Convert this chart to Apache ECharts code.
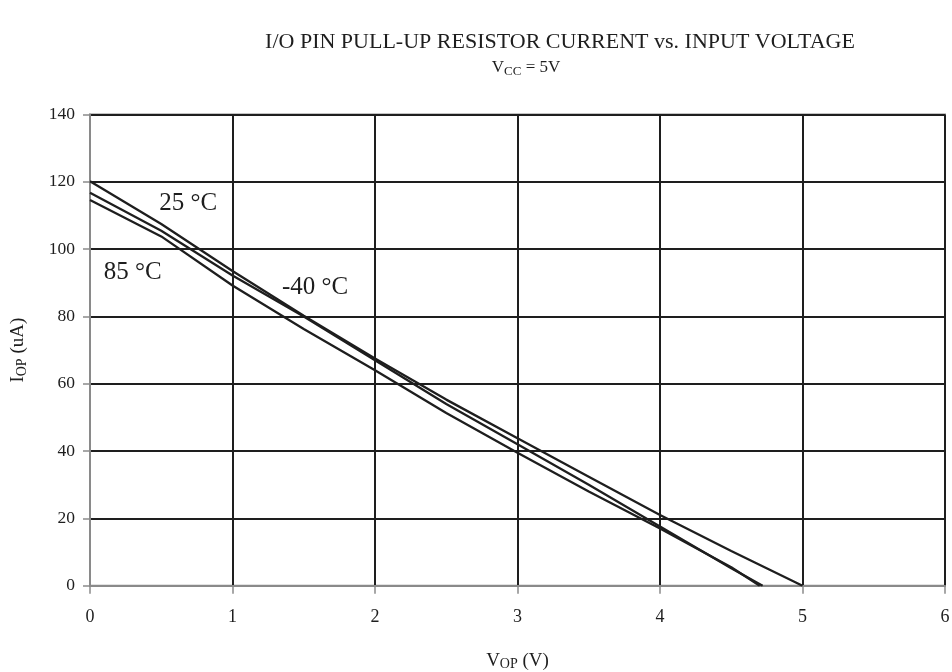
<!DOCTYPE html>
<html>
<head>
<meta charset="utf-8">
<title>I/O Pin Pull-up Resistor Current vs. Input Voltage</title>
<script src="https://cdn.jsdelivr.net/npm/echarts@6/dist/echarts.min.js"></script>
<style>
  html, body { margin: 0; padding: 0; background: #fff; }
  #chart { width: 952px; height: 672px; }
</style>
</head>
<body>
<div id="chart"></div>
<script>
// Pull-up current (uA) against pin voltage (V), one curve per temperature
const temps = ['25 °C', '-40 °C', '85 °C'];
const curve25 = [[0, 120.2], [0.5, 107.5], [1, 93.5], [1.5, 80.2], [2, 67.5], [2.5, 55.3], [3, 43.8], [3.5, 32.4], [4, 21], [4.5, 10.3], [5, 0]];
const curveM40 = [[0, 116.8], [0.5, 105.5], [1, 92.2], [1.5, 80], [2, 67], [2.5, 54], [3, 42], [3.5, 30], [4, 17.6], [4.5, 5.2], [4.72, 0]];
const curve85 = [[0, 114.6], [0.5, 103.8], [1, 89.2], [1.5, 76.3], [2, 64], [2.5, 51.3], [3, 39.5], [3.5, 28], [4, 17], [4.5, 5.5], [4.7, 0]];
// Where each temperature name is written, in data units
const labelAt = [[0.69, 113.5], [1.58, 88.5], [0.3, 93.2]];
const xTicks = [0, 1, 2, 3, 4, 5, 6];
const yTicks = [0, 20, 40, 60, 80, 100, 120, 140];

const serif = '"Liberation Serif", "Times New Roman", serif';
const ink = '#1e1e1e';
const frame = '#8a8a8a';

const curves = [curve25, curveM40, curve85];

// Subscript style shared by the axis names and the supply-voltage line
const subStyle = (size) => ({
  sub: { fontFamily: serif, fontSize: size, color: ink, verticalAlign: 'bottom', padding: [Math.round(size * 0.55), 0, 0, 0] }
});

const chart = echarts.init(document.getElementById('chart'), null, { renderer: 'canvas' });

chart.setOption({
  backgroundColor: '#fff',
  animation: false,
  title: [
    {
      text: 'I/O PIN PULL-UP RESISTOR CURRENT vs. INPUT VOLTAGE',
      left: 555, top: 26, textAlign: 'center',
      textStyle: { fontFamily: serif, fontSize: 22, fontWeight: 'normal', color: ink }
    },
    {
      text: 'V{sub|CC} = 5V',
      left: 521, top: 53, textAlign: 'center',
      textStyle: {
        fontFamily: serif, fontSize: 17, fontWeight: 'normal', color: ink,
        rich: subStyle(13)
      }
    }
  ],
  grid: {
    left: 90, right: 7, top: 114.6, bottom: 86.3,
    containLabel: false, outerBoundsMode: 'none',
    show: true, borderColor: frame, borderWidth: 2, backgroundColor: 'transparent'
  },
  xAxis: {
    type: 'value', min: xTicks[0], max: xTicks[xTicks.length - 1], interval: 1,
    name: 'V{sub|OP} (V)', nameLocation: 'middle', nameGap: 64,
    nameTextStyle: { fontFamily: serif, fontSize: 19, color: ink, rich: subStyle(14) },
    axisLine: { show: true, lineStyle: { color: frame, width: 2 } },
    axisTick: { show: true, length: 8, lineStyle: { color: frame, width: 1.5 } },
    axisLabel: { margin: 23, fontFamily: serif, fontSize: 18, color: ink },
    splitLine: { show: true, lineStyle: { color: ink, width: 2 } }
  },
  yAxis: {
    type: 'value', min: yTicks[0], max: yTicks[yTicks.length - 1], interval: 20,
    name: 'I{sub|OP} (uA)', nameLocation: 'middle', nameGap: 61, nameRotate: 90,
    nameTextStyle: { fontFamily: serif, fontSize: 19, color: ink, rich: subStyle(14) },
    axisLine: { show: true, lineStyle: { color: frame, width: 2 } },
    axisTick: { show: true, length: 7, lineStyle: { color: frame, width: 1.5 } },
    axisLabel: { margin: 15, fontFamily: serif, fontSize: 17.5, color: ink },
    splitLine: { show: true, lineStyle: { color: ink, width: 2 } }
  },
  series: temps.map((name, i) => ({
    name: name,
    type: 'line',
    data: curves[i],
    showSymbol: false,
    symbol: 'none',
    smooth: false,
    lineStyle: { color: ink, width: 2.3 },
    markPoint: {
      symbol: 'circle', symbolSize: 0,
      label: {
        show: true, position: 'inside', formatter: name,
        fontFamily: serif, fontSize: 25, color: ink
      },
      data: [{ coord: labelAt[i] }]
    }
  }))
});
</script>
</body>
</html>
